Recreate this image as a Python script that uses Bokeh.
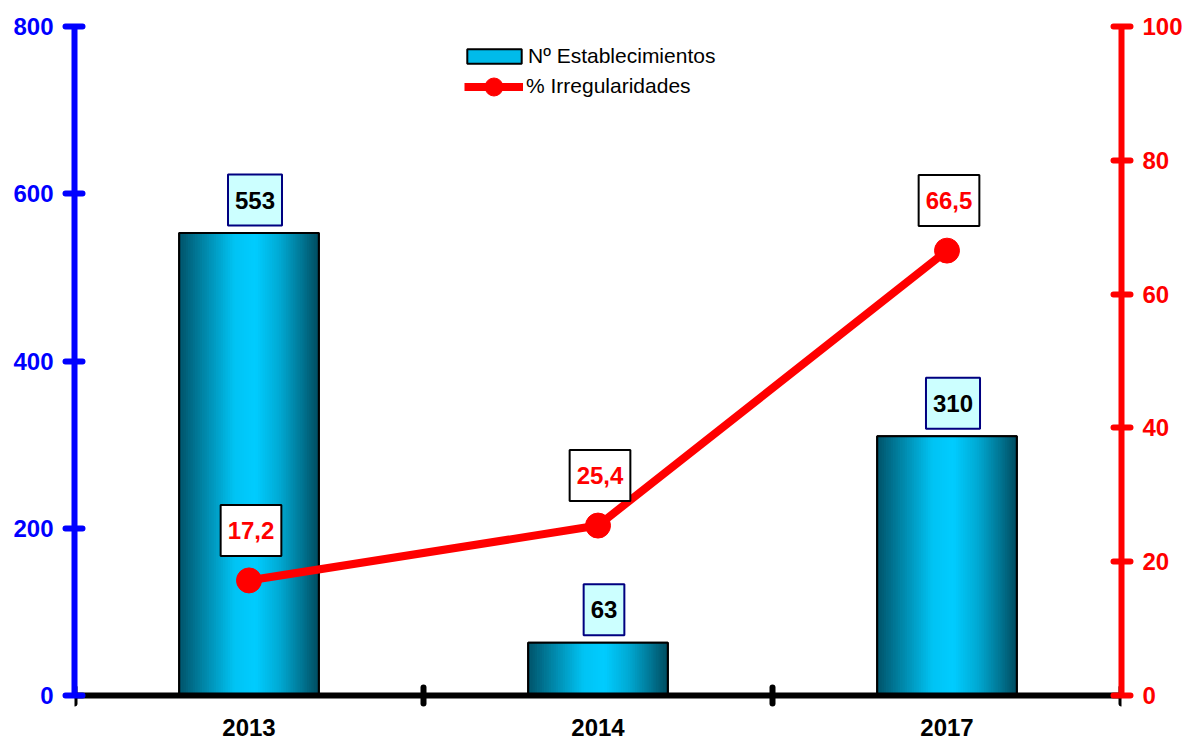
import numpy as np
from bokeh.plotting import figure
from bokeh.models import (Range1d, LinearAxis, FixedTicker, Label, Legend, LegendItem,
                          ColumnDataSource, Grid)
from bokeh.embed import file_html
from bokeh.resources import INLINE
from bokeh.core.properties import value

# ---------------- data ----------------
years = ["2013", "2014", "2017"]
establecimientos = [553, 63, 310]
irregularidades = [17.2, 25.4, 66.5]
left_ticks = [0, 200, 400, 600, 800]
right_ticks = [0, 20, 40, 60, 80, 100]
series_names = ["Nº Establecimientos", "% Irregularidades"]

# ---------------- layout / style ----------------
FONT = "Liberation Sans"
W, H = 1196, 742
ML, MR, MT = 74, 75, 26
FRAME_H = H - MT
AXIS_PX = 669            # pixels from 0 to top of the axes
LEFT_MAX, RIGHT_MAX = 800, 100
below_px = FRAME_H - AXIS_PX
y_start = -below_px / AXIS_PX * LEFT_MAX
r_start = -below_px / AXIS_PX * RIGHT_MAX
BLUE, RED = "#0000FF", "#FF0000"
BW = 0.4

xs = np.arange(len(years))

p = figure(width=W, height=H, output_backend="svg", toolbar_location=None,
           x_range=Range1d(-0.5, len(years) - 0.5), y_range=Range1d(y_start, LEFT_MAX),
           x_axis_location=None, y_axis_location=None,
           min_border_left=ML, min_border_right=MR, min_border_top=MT, min_border_bottom=0)
p.extra_y_ranges = {"right": Range1d(r_start, RIGHT_MAX)}
p.outline_line_color = None
p.background_fill_color = "white"
for g in p.select(type=Grid):
    g.visible = False


def style_axis(ax, color):
    ax.axis_line_color = color
    ax.axis_line_width = 6
    ax.major_tick_line_color = color
    ax.major_tick_line_width = 6
    ax.major_tick_line_cap = "round"
    ax.major_tick_in = 8
    ax.major_tick_out = 9
    ax.minor_tick_line_color = None
    ax.major_label_text_color = color
    ax.major_label_text_font = FONT
    ax.major_label_text_font_style = "bold"
    ax.major_label_text_font_size = "24px"
    ax.major_label_standoff = 12


yl = LinearAxis(ticker=FixedTicker(ticks=left_ticks), bounds=(0, LEFT_MAX))
style_axis(yl, BLUE)
p.add_layout(yl, "left")
yr = LinearAxis(y_range_name="right", ticker=FixedTicker(ticks=right_ticks), bounds=(0, RIGHT_MAX))
style_axis(yr, RED)
p.add_layout(yr, "right")

# ---------------- gradient bars ----------------
stops = [(0.0, (0x00, 0x52, 0x68)), (0.18, (0x00, 0x86, 0xA8)), (0.40, (0x00, 0xC4, 0xF4)),
         (0.55, (0x00, 0xCC, 0xFF)), (0.72, (0x00, 0xAA, 0xD4)), (0.88, (0x00, 0x76, 0x94)),
         (1.0, (0x00, 0x4C, 0x60))]


def grad(f):
    for (f0, c0), (f1, c1) in zip(stops[:-1], stops[1:]):
        if f0 <= f <= f1:
            t = (f - f0) / (f1 - f0)
            c = [int(round(a + (b - a) * t)) for a, b in zip(c0, c1)]
            return "#%02x%02x%02x" % tuple(c)
    return "#%02x%02x%02x" % stops[-1][1]


# base bar (also used as legend swatch), covered by the gradient strips
bar_leg = p.vbar(x=xs, top=establecimientos, bottom=0, width=BW, fill_color="#00BBEA",
                 line_color="black", line_width=2)
N = 60
sx, st, sc = [], [], []
for i, v in enumerate(establecimientos):
    for k in range(N):
        f = (k + 0.5) / N
        sx.append(xs[i] - BW / 2 + f * BW)
        st.append(v)
        sc.append(grad(f))
p.vbar(x="x", top="top", bottom=0, width=BW / N * 1.3, fill_color="c", line_color=None,
       source=ColumnDataSource(dict(x=sx, top=st, c=sc)))
p.vbar(x=xs, top=establecimientos, bottom=0, width=BW, fill_color=None,
       line_color="black", line_width=2)

# ---------------- x axis (black line, boundary ticks, labels) ----------------
p.segment(x0=[xs[0] - 0.5], y0=[0], x1=[xs[-1] + 0.5], y1=[0], line_color="black", line_width=6)
bounds = list(np.arange(len(years) + 1) - 0.5)
p.scatter(x=bounds, y=[0] * len(bounds), marker="dash", angle=np.pi / 2, size=16,
          line_color="black", line_width=6, line_cap="round")
p.text(x=xs, y=[0] * len(xs), text=years, y_offset=32, text_align="center",
       text_baseline="alphabetic", text_font=value(FONT), text_font_style="bold",
       text_font_size="24px", text_color="black")

# ---------------- line series ----------------
line_r = p.line(x=xs, y=irregularidades, y_range_name="right", line_color=RED, line_width=8)
dot_r = p.scatter(x=xs, y=irregularidades, y_range_name="right", marker="circle", size=25,
                  fill_color=RED, line_color=RED)

# ---------------- value labels ----------------
for i, v in enumerate(establecimientos):
    p.add_layout(Label(x=xs[i], y=v, text=str(v), x_offset=6, y_offset=33,
                       text_align="center", text_baseline="middle", text_font=FONT,
                       text_font_style="bold", text_font_size="24px", text_color="black",
                       background_fill_color="#CCFFFF", border_line_color="#000080",
                       border_line_width=2,
                       padding=dict(left=7, right=7, top=17, bottom=17)))
for i, v in enumerate(irregularidades):
    p.add_layout(Label(x=xs[i], y=v, y_range_name="right",
                       text=("%.1f" % v).replace(".", ","), x_offset=2, y_offset=50,
                       text_align="center", text_baseline="middle", text_font=FONT,
                       text_font_style="bold", text_font_size="24px", text_color=RED,
                       background_fill_color="white", border_line_color="black",
                       border_line_width=2,
                       padding=dict(left=7, right=7, top=17, bottom=17)))

# ---------------- legends ----------------
common = dict(padding=0, margin=0, spacing=0,
              label_text_font=FONT, label_text_font_size="21px", label_text_color="black",
              border_line_color=None, background_fill_alpha=0)
leg1 = Legend(items=[LegendItem(label=series_names[0], renderers=[bar_leg])],
              location=(386, H - 67.5), glyph_width=68, glyph_height=18, label_height=18,
              label_standoff=0, **common)
leg2 = Legend(items=[LegendItem(label=series_names[1], renderers=[line_r, dot_r])],
              location=(390, H - 108.5), glyph_width=59, glyph_height=45, label_height=45,
              label_standoff=3, **common)
p.add_layout(leg1)
p.add_layout(leg2)

open("out.html", "w").write(file_html(p, INLINE))
